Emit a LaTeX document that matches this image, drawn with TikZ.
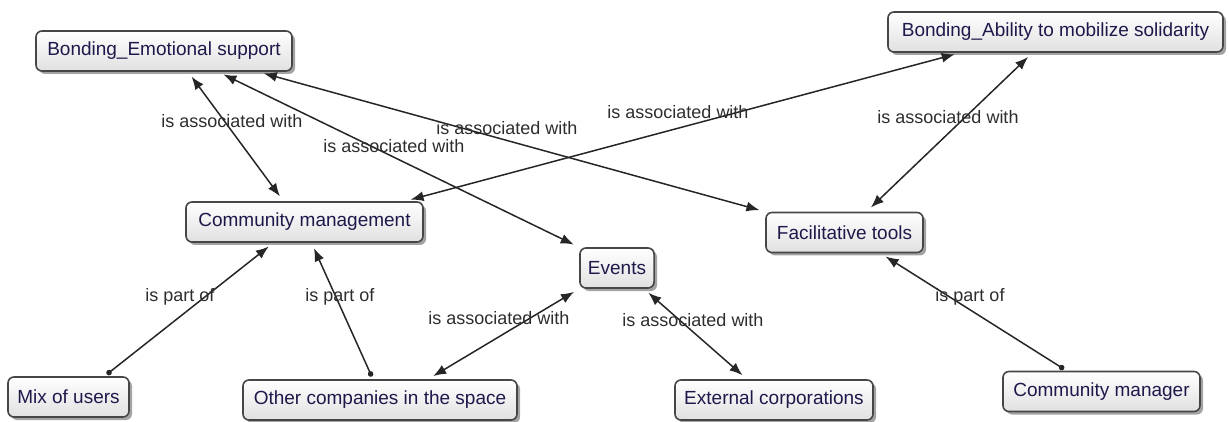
\documentclass[tikz,border=0pt]{standalone}
\usepackage{fontspec}
\setmainfont{Liberation Sans}
\usetikzlibrary{arrows.meta,shadows,positioning}
\definecolor{conceptborder}{RGB}{70,70,70}
\definecolor{concepttext}{RGB}{30,25,75}
\definecolor{linktext}{RGB}{45,45,45}
\tikzset{
    concept/.style = {draw=conceptborder, line width=1.6pt, rectangle, rounded corners=6pt, top color=white, bottom color=black!12, minimum height=40pt, inner xsep=8pt, text=concepttext, font=\fontsize{19}{21}\selectfont, drop shadow={shadow xshift=3pt, shadow yshift=-3pt, fill=black!60, opacity=0.6}},
    link-label/.style = {text=linktext, font=\fontsize{18}{20}\selectfont, inner sep=0pt},
    assoc/.style = {draw=black!85, line width=1.5pt, {Latex[length=13pt,width=10pt]}-{Latex[length=13pt,width=10pt]}, shorten <=6pt, shorten >=6pt},
    partof/.style = {draw=black!85, line width=1.5pt, {Circle[length=5.5pt]}-{Latex[length=13pt,width=10pt]}, shorten <=3pt, shorten >=6pt},
}

\begin{document}
\begin{tikzpicture}[x=1pt, y=-1pt]
\useasboundingbox (0,0) rectangle (1229,422);

% concepts
\node[concept, minimum width=256pt] (be) at (164,51) {Bonding\_Emotional support};
\node[concept, minimum width=335pt] (ba) at (1055.5,32) {Bonding\_Ability to mobilize solidarity};
\node[concept, minimum width=237pt] (cm) at (304.5,222) {Community management};
\node[concept, minimum width=157pt] (ft) at (844.5,232.5) {Facilitative tools};
\node[concept, minimum width=72pt] (ev) at (617,268) {Events};
\node[concept, minimum width=121pt] (mu) at (68.5,397) {Mix of users};
\node[concept, minimum width=274pt] (oc) at (380,400) {Other companies in the space};
\node[concept, minimum width=198pt] (ec) at (774,400) {External corporations};
\node[concept, minimum width=197pt] (cmg) at (1101.5,391.5) {Community manager};

% links
\draw[assoc] ([xshift=24pt]be.south) -- ([xshift=-21pt]cm.north);
\draw[assoc] ([xshift=54pt]be.south) -- (ev.north west);
\draw[assoc] ([xshift=94pt]be.south) -- (ft.north west);
\draw[assoc] ([xshift=-19pt]cm.north east) -- ([xshift=-95pt]ba.south);
\draw[assoc] ([xshift=-23pt]ba.south) -- ([xshift=22pt]ft.north);
\draw[partof] ([xshift=36pt]mu.north) -- ([xshift=-31pt]cm.south);
\draw[partof] ([xshift=-7pt]oc.north) -- ([xshift=7pt]cm.south);
\draw[assoc] ([xshift=48pt]oc.north) -- (ev.south west);
\draw[assoc] ([xshift=-11pt]ev.south east) -- ([xshift=-27pt]ec.north);
\draw[partof] ([xshift=-35pt]cmg.north) -- ([xshift=36pt]ft.south);

% linking phrases
\node[link-label] (lbecm) at (232,121) {is associated with};
\node[link-label] (lbeev) at (394,146) {is associated with};
\node[link-label] (lbeft) at (507,128) {is associated with};
\node[link-label] (lcmba) at (678,112) {is associated with};
\node[link-label] (lbaft) at (948,117) {is associated with};
\node[link-label] (lmucm) at (180,297) {is part of};
\node[link-label] (loccm) at (340,297) {is part of};
\node[link-label] (locev) at (499,318) {is associated with};
\node[link-label] (levec) at (693,320) {is associated with};
\node[link-label] (lcmgft) at (970,297) {is part of};
\end{tikzpicture}
\end{document}
